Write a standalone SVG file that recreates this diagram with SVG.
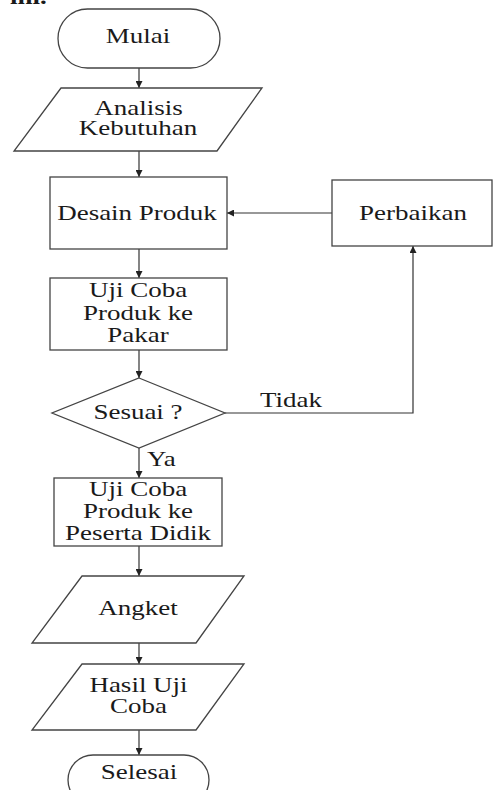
<svg xmlns="http://www.w3.org/2000/svg" width="493" height="790" viewBox="0 0 493 790">
<style>
.s{fill:#fff;stroke:#444;stroke-width:1.3}
.c{fill:none;stroke:#333;stroke-width:1.2}
text{font-family:"Liberation Serif","Times New Roman",serif;font-size:20px;fill:#1a1a1a;text-anchor:middle}
.l{text-anchor:start}
.b{font-weight:bold}
</style>
<defs>
<marker id="ah" viewBox="0 0 8 8" refX="8" refY="4" markerWidth="7" markerHeight="7" markerUnits="userSpaceOnUse" orient="auto">
<path d="M0,0 L8,4 L0,8 Z" fill="#222"/>
</marker>
</defs>
<rect width="493" height="790" fill="#fff"/>
<text class="b l" transform="translate(10 4) scale(1.35 1)">ini.</text>
<g id="connectors">
<line class="c" x1="139" y1="68" x2="139" y2="88" marker-end="url(#ah)"/>
<line class="c" x1="139" y1="151" x2="139" y2="177" marker-end="url(#ah)"/>
<line class="c" x1="332" y1="213" x2="227" y2="213" marker-end="url(#ah)"/>
<line class="c" x1="139" y1="249" x2="139" y2="278" marker-end="url(#ah)"/>
<line class="c" x1="139" y1="350" x2="139" y2="378" marker-end="url(#ah)"/>
<polyline class="c" points="225,413 413,413 413,246" marker-end="url(#ah)"/>
<line class="c" x1="139" y1="448" x2="139" y2="478" marker-end="url(#ah)"/>
<line class="c" x1="139" y1="546" x2="139" y2="576" marker-end="url(#ah)"/>
<line class="c" x1="139" y1="643" x2="139" y2="664" marker-end="url(#ah)"/>
<line class="c" x1="139" y1="730" x2="139" y2="755" marker-end="url(#ah)"/>
<text class="l" transform="translate(260 407) scale(1.35 1)">Tidak</text>
<text class="l" transform="translate(147 466) scale(1.35 1)">Ya</text>
</g>
<g id="mulai">
<rect class="s" x="58" y="9" width="162" height="59" rx="29.5"/>
<text transform="translate(138 43) scale(1.35 1)">Mulai</text>
</g>
<g id="analisis">
<polygon class="s" points="61,88 262,88 217,151 14,151"/>
<text transform="translate(138.5 115) scale(1.35 1)">Analisis</text>
<text transform="translate(138 135) scale(1.35 1)">Kebutuhan</text>
</g>
<g id="desain">
<rect class="s" x="50" y="177" width="177" height="72"/>
<text transform="translate(137 220) scale(1.35 1)">Desain Produk</text>
</g>
<g id="perbaikan">
<rect class="s" x="332" y="180" width="160" height="66"/>
<text transform="translate(413 220) scale(1.35 1)">Perbaikan</text>
</g>
<g id="ujipakar">
<rect class="s" x="50" y="278" width="177" height="72"/>
<text transform="translate(138 297) scale(1.35 1)">Uji Coba</text>
<text transform="translate(138 319.5) scale(1.35 1)">Produk ke</text>
<text transform="translate(138 342) scale(1.35 1)">Pakar</text>
</g>
<g id="sesuai">
<polygon class="s" points="139,378 225,413 139,448 52,413"/>
<text transform="translate(138 419) scale(1.35 1)">Sesuai ?</text>
</g>
<g id="ujipeserta">
<rect class="s" x="54" y="478" width="168" height="68"/>
<text transform="translate(138 496) scale(1.35 1)">Uji Coba</text>
<text transform="translate(138 517.5) scale(1.35 1)">Produk ke</text>
<text transform="translate(138 540) scale(1.35 1)">Peserta Didik</text>
</g>
<g id="angket">
<polygon class="s" points="82,576 244,576 196,643 32,643"/>
<text transform="translate(138 615) scale(1.35 1)">Angket</text>
</g>
<g id="hasil">
<polygon class="s" points="82,664 244,664 196,730 32,730"/>
<text transform="translate(138.5 692) scale(1.35 1)">Hasil Uji</text>
<text transform="translate(138.5 713) scale(1.35 1)">Coba</text>
</g>
<g id="selesai">
<rect class="s" x="68" y="755" width="141" height="50" rx="25"/>
<text transform="translate(139 779) scale(1.35 1)">Selesai</text>
</g>
</svg>
